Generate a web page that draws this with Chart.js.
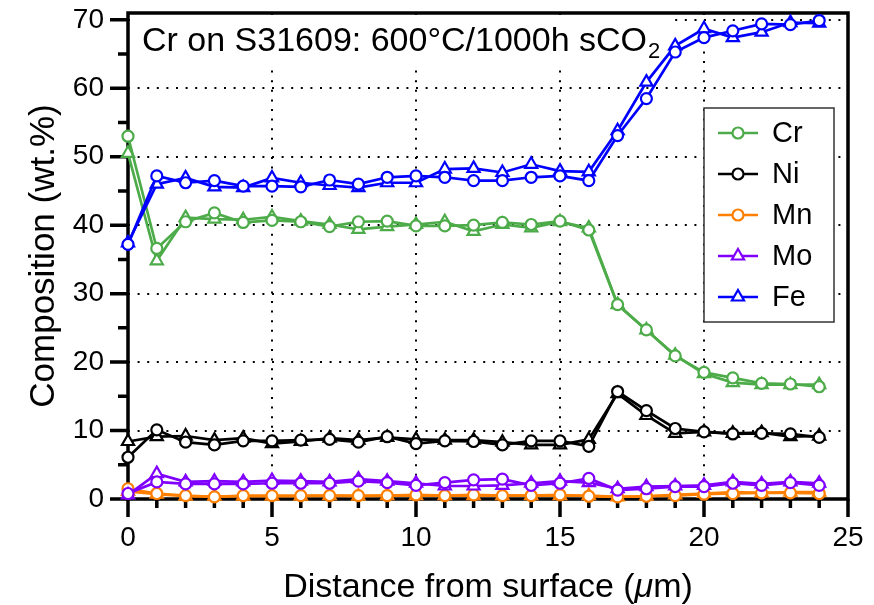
<!DOCTYPE html>
<html>
<head>
<meta charset="utf-8">
<title>Cr on S31609</title>
<script src="https://cdn.jsdelivr.net/npm/chart.js@4/dist/chart.umd.min.js"></script>
<style>
  body { margin: 0; background: #fff; }
  canvas { display: block; }
</style>
</head>
<body>
<canvas id="chart" width="874" height="605"></canvas>
<script>
const distance = [0, 1, 2, 3, 4, 5, 6, 7, 8, 9, 10, 11, 12, 13, 14, 15, 16, 17, 18, 19, 20, 21, 22, 23, 24];

// circles = first profile, triangles = second profile
const crCirc = [53.0, 36.6, 40.5, 41.8, 40.4, 40.7, 40.5, 39.8, 40.5, 40.6, 39.9, 39.9, 40.0, 40.4, 40.1, 40.6, 39.3, 28.4, 24.7, 20.9, 18.5, 17.7, 16.9, 16.8, 16.4];
const crTri  = [50.5, 34.8, 41.1, 40.9, 40.8, 41.2, 40.6, 40.1, 39.4, 39.8, 40.1, 40.5, 39.1, 40.1, 39.6, 40.5, 39.6, 28.4, 24.7, 21.0, 18.3, 17.0, 16.7, 16.7, 16.7];
const niCirc = [6.1, 10.1, 8.3, 7.9, 8.5, 8.5, 8.6, 8.7, 8.3, 9.1, 8.1, 8.5, 8.4, 7.9, 8.5, 8.5, 7.7, 15.7, 12.9, 10.3, 9.8, 9.5, 9.6, 9.5, 9.0];
const niTri  = [8.4, 9.1, 9.2, 8.6, 8.9, 8.1, 8.4, 8.9, 8.6, 9.0, 8.7, 8.6, 8.6, 8.3, 7.9, 7.9, 8.7, 15.4, 12.2, 9.6, 9.8, 9.6, 9.7, 9.1, 9.2];
const mnCirc = [1.5, 0.8, 0.5, 0.3, 0.5, 0.5, 0.5, 0.5, 0.5, 0.5, 0.6, 0.5, 0.6, 0.5, 0.5, 0.6, 0.4, 0.3, 0.4, 0.5, 0.7, 0.8, 0.9, 0.9, 0.8];
const mnTri  = [1.1, 0.7, 0.4, 0.4, 0.4, 0.4, 0.4, 0.5, 0.4, 0.5, 0.5, 0.5, 0.5, 0.5, 0.5, 0.5, 0.5, 0.3, 0.4, 0.6, 0.8, 1.0, 0.9, 1.0, 1.0];
const moCirc = [0.8, 2.5, 2.2, 2.2, 2.2, 2.3, 2.3, 2.3, 2.6, 2.4, 2.0, 2.4, 2.8, 2.9, 2.0, 2.3, 3.0, 1.3, 1.5, 1.8, 1.8, 2.3, 2.0, 2.4, 2.0];
const moTri  = [0.6, 3.7, 2.5, 2.6, 2.5, 2.7, 2.6, 2.5, 2.9, 2.6, 2.3, 1.9, 1.9, 2.0, 2.3, 2.6, 2.4, 1.5, 1.8, 1.9, 2.0, 2.5, 2.2, 2.5, 2.3];
const feCirc = [37.2, 47.2, 46.2, 46.5, 45.7, 45.7, 45.6, 46.6, 46.0, 47.0, 47.2, 47.0, 46.5, 46.5, 47.0, 47.2, 46.5, 53.1, 58.5, 65.3, 67.4, 68.4, 69.4, 69.3, 69.9];
const feTri  = [37.4, 46.0, 46.9, 45.6, 45.5, 46.9, 46.2, 45.8, 45.5, 46.2, 46.2, 48.2, 48.3, 47.7, 48.9, 47.9, 47.8, 53.8, 60.9, 66.2, 68.7, 67.4, 68.2, 69.6, 69.5];

const xTicks = [0, 5, 10, 15, 20, 25];
const yTicks = [0, 10, 20, 30, 40, 50, 60, 70];

const elements = ['Cr', 'Ni', 'Mn', 'Mo', 'Fe'];
const elementColors = ['#4dac49', '#000000', '#ff8000', '#8000ff', '#0000ff'];
const legendMarkers = ['circle', 'circle', 'circle', 'triangle', 'triangle'];

const FONT = '"Liberation Sans", Arial, Helvetica, sans-serif';
const CIRCLE_R = 5.5;
const TRI_R = 7;

function pts(arr) {
    return distance.map((d, i) => ({ x: d, y: arr[i] }));
}

function series(name, arr, style) {
    const color = elementColors[elements.indexOf(name)];
    return {
        label: name,
        data: pts(arr),
        borderColor: color,
        backgroundColor: color,
        borderWidth: 2.7,
        pointStyle: style,
        pointRadius: style === 'circle' ? CIRCLE_R : TRI_R,
        pointBorderWidth: 2.2,
        pointBackgroundColor: '#fff',
        pointBorderColor: color,
        tension: 0,
        clip: false
    };
}

const datasets = [
    series('Fe', feCirc, 'circle'),
    series('Fe', feTri, 'triangle'),
    series('Cr', crCirc, 'circle'),
    series('Cr', crTri, 'triangle'),
    series('Ni', niCirc, 'circle'),
    series('Ni', niTri, 'triangle'),
    series('Mo', moCirc, 'circle'),
    series('Mo', moTri, 'triangle'),
    series('Mn', mnCirc, 'circle'),
    series('Mn', mnTri, 'triangle')
];

function marker(ctx, style, x, y, r) {
    ctx.beginPath();
    if (style === 'circle') {
        ctx.arc(x, y, r, 0, Math.PI * 2);
    } else {
        let rad = 0;
        for (let k = 0; k < 3; k++) {
            const px = x + Math.sin(rad) * r, py = y - Math.cos(rad) * r;
            k === 0 ? ctx.moveTo(px, py) : ctx.lineTo(px, py);
            rad += Math.PI * 2 / 3;
        }
        ctx.closePath();
    }
    ctx.fill();
    ctx.stroke();
}

const decor = {
    id: 'decor',
    beforeDatasetsDraw(chart) {
        const { ctx, chartArea: a, scales: { x, y } } = chart;
        ctx.save();

        // white box behind the title hides the grid
        ctx.fillStyle = '#fff';
        ctx.fillRect(a.left + 2, a.top + 2, 540, 52);
        const title = 'Cr on S31609: 600°C/1000h sCO';
        ctx.fillStyle = '#000';
        ctx.textAlign = 'left';
        ctx.textBaseline = 'alphabetic';
        ctx.font = '34px ' + FONT;
        ctx.fillText(title, 142, 51);
        const tw = ctx.measureText(title).width;
        ctx.font = '22px ' + FONT;
        ctx.fillText('2', 142 + tw + 1, 58);

        // tick marks, major and minor
        ctx.strokeStyle = '#000';
        ctx.lineWidth = 3.5;
        ctx.beginPath();
        for (let v = 0; v <= 25; v++) {
            const px = x.getPixelForValue(v);
            const len = v % 5 === 0 ? 18 : 9;
            ctx.moveTo(px, a.bottom);
            ctx.lineTo(px, a.bottom + len);
        }
        for (let v = 0; v <= 70; v += 5) {
            const py = y.getPixelForValue(v);
            const len = v % 10 === 0 ? 18 : 10;
            ctx.moveTo(a.left, py);
            ctx.lineTo(a.left - len, py);
        }
        ctx.stroke();
        ctx.strokeRect(a.left, a.top, a.right - a.left, a.bottom - a.top);
        ctx.restore();
    },
    afterDraw(chart) {
        const { ctx, chartArea: a } = chart;
        ctx.save();

        // legend
        const bx = 704, by = 108, bw = 130, bh = 214;
        ctx.fillStyle = '#fff';
        ctx.fillRect(bx, by, bw, bh);
        ctx.strokeStyle = '#333';
        ctx.lineWidth = 1.5;
        ctx.strokeRect(bx, by, bw, bh);
        elements.forEach((name, i) => {
            const cy = by + 25 + i * 41;
            const color = elementColors[i];
            ctx.strokeStyle = color;
            ctx.lineWidth = 2.7;
            ctx.beginPath();
            ctx.moveTo(bx + 14, cy);
            ctx.lineTo(bx + 54, cy);
            ctx.stroke();
            ctx.fillStyle = '#fff';
            ctx.lineWidth = 2.2;
            marker(ctx, legendMarkers[i], bx + 34, cy, legendMarkers[i] === 'circle' ? CIRCLE_R : TRI_R);
            ctx.fillStyle = '#000';
            ctx.font = '29px ' + FONT;
            ctx.textAlign = 'left';
            ctx.textBaseline = 'middle';
            ctx.fillText(name, bx + 68, cy + 1);
        });

        // axis titles
        ctx.fillStyle = '#000';
        ctx.textBaseline = 'alphabetic';
        ctx.font = '34px ' + FONT;
        const p1 = 'Distance from surface (';
        const mu = 'μ';
        const p2 = 'm)';
        const w1 = ctx.measureText(p1).width;
        const w3 = ctx.measureText(p2).width;
        ctx.font = 'italic 34px ' + FONT;
        const w2 = ctx.measureText(mu).width;
        const cx = (a.left + a.right) / 2;
        let sx = cx - (w1 + w2 + w3) / 2;
        ctx.textAlign = 'left';
        ctx.font = '34px ' + FONT;
        ctx.fillText(p1, sx, 597);
        ctx.font = 'italic 34px ' + FONT;
        ctx.fillText(mu, sx + w1, 597);
        ctx.font = '34px ' + FONT;
        ctx.fillText(p2, sx + w1 + w2, 597);

        ctx.translate(54, (a.top + a.bottom) / 2);
        ctx.rotate(-Math.PI / 2);
        ctx.textAlign = 'center';
        ctx.font = '35px ' + FONT;
        ctx.fillText('Composition (wt.%)', 0, 0);
        ctx.restore();
    }
};

new Chart(document.getElementById('chart'), {
    type: 'line',
    data: { datasets },
    options: {
        responsive: false,
        devicePixelRatio: 1,
        animation: false,
        layout: { padding: { top: 13, right: 26, left: 0, bottom: 0 } },
        plugins: {
            legend: { display: false },
            tooltip: { enabled: false }
        },
        scales: {
            x: {
                type: 'linear',
                min: 0,
                max: 25,
                afterBuildTicks: s => { s.ticks = xTicks.map(v => ({ value: v })); },
                afterFit: s => { s.height = 106; s.paddingLeft = 0; s.paddingRight = 0; },
                ticks: { color: '#000', font: { family: FONT, size: 28 }, padding: 22, maxRotation: 0 },
                grid: { color: '#000', lineWidth: 2, drawTicks: false },
                border: { display: false, dash: [2, 7.6] }
            },
            y: {
                min: 0,
                max: 71,
                afterBuildTicks: s => { s.ticks = yTicks.map(v => ({ value: v })); },
                afterFit: s => { s.width = 128; s.paddingTop = 0; s.paddingBottom = 0; },
                ticks: { color: '#000', font: { family: FONT, size: 28 }, padding: 24 },
                grid: { color: '#000', lineWidth: 2, drawTicks: false },
                border: { display: false, dash: [2, 7.6] }
            }
        }
    },
    plugins: [decor]
});
</script>
</body>
</html>
